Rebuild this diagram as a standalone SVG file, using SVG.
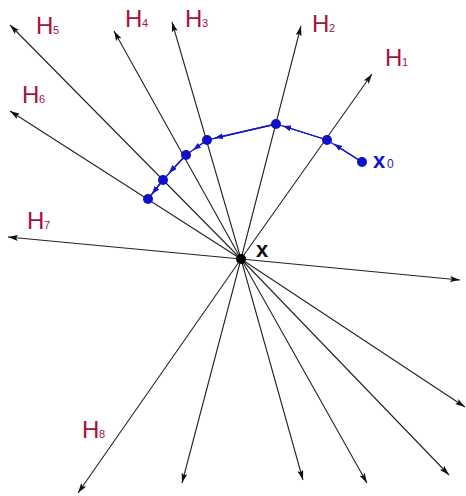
<svg xmlns="http://www.w3.org/2000/svg" width="466" height="496" viewBox="0 0 466 496">
<defs>
<marker id="ah" viewBox="0 0 10 6" refX="10" refY="3" markerWidth="10" markerHeight="6" markerUnits="userSpaceOnUse" orient="auto-start-reverse">
<path d="M0,0 L10,3 L0,6 L2,3 Z" fill="#111"/>
</marker>
<marker id="bh" viewBox="0 0 8 6" refX="8" refY="3" markerWidth="8" markerHeight="6" markerUnits="userSpaceOnUse" orient="auto">
<path d="M0,0 L8,3 L0,6 Z" fill="#1515c8"/>
</marker>
</defs>
<style>
.ln{fill:none;stroke:#222;stroke-width:1.1;marker-start:url(#ah);marker-end:url(#ah)}
.lab{font-family:"Liberation Sans",Arial,sans-serif;font-size:24px;fill:#a3123d}
.sub{font-family:"Liberation Sans",Arial,sans-serif;font-size:11px;fill:#a3123d}
.bl{fill:none;stroke:#1515c8;stroke-width:1.3}
.dot{fill:#1010c8}
</style>
<g id="connectors">
<path class="ln" d="M372,74 L241,259 L78,493"/>
<path class="ln" d="M301,26 L241,259 L182,483"/>
<path class="ln" d="M172,22 L241,259 L303,480"/>
<path class="ln" d="M114,31 L241,259 L367,483"/>
<path class="ln" d="M10,25 L241,259 L449,475"/>
<path class="ln" d="M10,111 L241,259 L465,407"/>
<path class="ln" d="M8,237 L241,259 L460,280"/>
</g>
<g id="path">
<polyline class="bl" points="362,162 327,140 276,124 207,140 186,155 163,180 148,199"/>
<line class="bl" x1="362" y1="162" x2="334" y2="144" marker-end="url(#bh)"/>
<line class="bl" x1="327" y1="140" x2="283" y2="126" marker-end="url(#bh)"/>
<line class="bl" x1="276" y1="124" x2="215" y2="138" marker-end="url(#bh)"/>
<line class="bl" x1="207" y1="140" x2="193" y2="150" marker-end="url(#bh)"/>
<line class="bl" x1="186" y1="155" x2="169" y2="173" marker-end="url(#bh)"/>
<line class="bl" x1="163" y1="180" x2="152" y2="194" marker-end="url(#bh)"/>
</g>
<g id="points">
<circle class="dot" cx="362" cy="162" r="5"/>
<circle class="dot" cx="327" cy="140" r="5"/>
<circle class="dot" cx="276" cy="124" r="5"/>
<circle class="dot" cx="207" cy="140" r="5"/>
<circle class="dot" cx="186" cy="155" r="5"/>
<circle class="dot" cx="163" cy="180" r="5"/>
<circle class="dot" cx="148" cy="199" r="5"/>
<circle cx="241" cy="259" r="5" fill="#000"/>
</g>
<g id="labels">
<g id="H1"><text class="lab" x="385" y="66">H</text><text class="sub" x="402" y="66">1</text></g>
<g id="H2"><text class="lab" x="312" y="32">H</text><text class="sub" x="329" y="32">2</text></g>
<g id="H3"><text class="lab" x="185" y="27">H</text><text class="sub" x="202" y="27">3</text></g>
<g id="H4"><text class="lab" x="125" y="27">H</text><text class="sub" x="142" y="27">4</text></g>
<g id="H5"><text class="lab" x="36" y="34">H</text><text class="sub" x="53" y="34">5</text></g>
<g id="H6"><text class="lab" x="22" y="103">H</text><text class="sub" x="39" y="103">6</text></g>
<g id="H7"><text class="lab" x="27" y="229">H</text><text class="sub" x="44" y="229">7</text></g>
<g id="H8"><text class="lab" x="82" y="438">H</text><text class="sub" x="99" y="438">8</text></g>
<g id="x0"><text x="373" y="168" font-family="Liberation Sans,Arial,sans-serif" font-size="22" font-weight="bold" fill="#1515c8">x</text><text x="387" y="168" font-family="Liberation Sans,Arial,sans-serif" font-size="12" fill="#1515c8">0</text></g>
<g id="X"><text x="256" y="257" font-family="Liberation Sans,Arial,sans-serif" font-size="22" font-weight="bold" fill="#111">x</text></g>
</g>
</svg>
